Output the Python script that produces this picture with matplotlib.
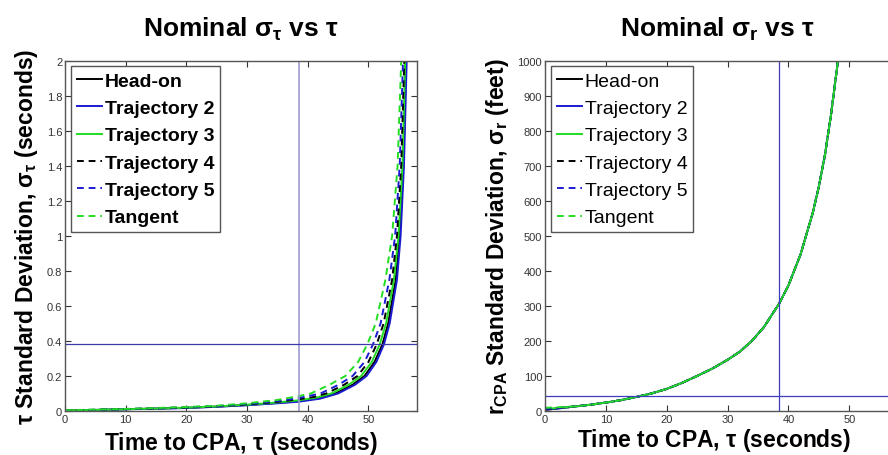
import matplotlib
matplotlib.use("Agg")
import matplotlib.pyplot as plt

plt.rcParams['font.family'] = ['Liberation Sans', 'DejaVu Sans']
plt.rcParams['mathtext.fontset'] = 'custom'
plt.rcParams['mathtext.rm'] = 'Liberation Sans:bold'
plt.rcParams['mathtext.it'] = 'Liberation Sans:bold'
plt.rcParams['mathtext.bf'] = 'Liberation Sans:bold'

labels = ["Head-on", "Trajectory 2", "Trajectory 3", "Trajectory 4", "Trajectory 5", "Tangent"]

# ---- left panel: sigma_tau (seconds) vs tau ----
tau_headon = [0, 5, 10, 15, 20, 25, 30, 35, 38.5, 42, 44.55, 47.4, 49.35, 51.0, 52.3, 53.25, 54.5, 55.15, 55.75, 56.2, 56.5]
sig_headon = [0.002, 0.006, 0.010, 0.014, 0.018, 0.025, 0.034, 0.046, 0.056, 0.075, 0.10, 0.15, 0.20, 0.28, 0.38, 0.50, 0.75, 1.0, 1.4, 2.0, 2.6]

tau_traj2 = [0, 5, 10, 15, 20, 25, 30, 35, 38.5, 42, 45.0, 47.8, 49.7, 51.3, 52.55, 53.5, 54.7, 55.3, 55.85, 56.3, 56.6]
sig_traj2 = [0.002, 0.006, 0.010, 0.013, 0.017, 0.024, 0.033, 0.044, 0.053, 0.07, 0.10, 0.15, 0.20, 0.28, 0.38, 0.50, 0.75, 1.0, 1.4, 2.0, 2.6]

tau_traj3 = [0, 5, 10, 15, 20, 25, 30, 35, 38.5, 41.5, 43.9, 46.75, 48.8, 50.55, 51.85, 52.9, 54.2, 54.95, 55.6, 56.05, 56.4]
sig_traj3 = [0.003, 0.006, 0.010, 0.014, 0.019, 0.026, 0.036, 0.049, 0.061, 0.077, 0.10, 0.15, 0.20, 0.28, 0.38, 0.50, 0.75, 1.0, 1.4, 2.0, 2.6]

tau_traj4 = [0, 5, 10, 15, 20, 25, 30, 35, 38.5, 41, 43.05, 46.0, 48.2, 50.0, 51.35, 52.5, 53.9, 54.7, 55.4, 55.9, 56.25]
sig_traj4 = [0.003, 0.007, 0.011, 0.015, 0.020, 0.027, 0.038, 0.052, 0.067, 0.08, 0.10, 0.15, 0.20, 0.28, 0.38, 0.50, 0.75, 1.0, 1.4, 2.0, 2.6]

tau_traj5 = [0, 5, 10, 15, 20, 25, 30, 35, 38.5, 42.1, 45.1, 47.4, 49.35, 50.75, 52.0, 53.45, 54.4, 55.15, 55.7, 56.1]
sig_traj5 = [0.003, 0.007, 0.011, 0.016, 0.021, 0.028, 0.040, 0.056, 0.074, 0.10, 0.15, 0.20, 0.28, 0.38, 0.50, 0.75, 1.0, 1.4, 2.0, 2.6]

tau_tangent = [0, 5, 10, 15, 20, 25, 30, 35, 38.5, 40.5, 43.6, 46.2, 48.3, 49.8, 51.2, 52.8, 53.9, 54.8, 55.4, 55.8]
sig_tangent = [0.004, 0.008, 0.012, 0.017, 0.023, 0.030, 0.044, 0.063, 0.085, 0.10, 0.15, 0.20, 0.28, 0.38, 0.50, 0.75, 1.0, 1.4, 2.0, 2.6]

tau_ref_left = 38.5
sig_ref_left = 0.383

# ---- right panel: sigma_r (feet) vs tau ----
tau_r = [0, 2.5, 5, 7.5, 10, 12.5, 15, 17.5, 20, 22.5, 25, 27.5, 30, 32, 34, 36, 38.5, 40, 42, 44, 45, 46, 47, 48, 49]
r_common = [13, 18, 24, 31, 40, 50, 63, 80, 100, 121, 146, 169, 200, 240, 307, 358, 447, 565, 640, 730, 845, 980, 1140]
r_headon = [3, 8] + r_common
r_traj2 = [4, 8] + r_common
r_traj3 = [6, 9] + r_common
r_traj4 = [5, 9] + r_common
r_traj5 = [6, 9] + r_common
r_tangent = [9, 11] + r_common

tau_ref_right = 38.5
r_ref_right = 43

xticks = [0, 10, 20, 30, 40, 50]
yticks_left = [0, 0.2, 0.4, 0.6, 0.8, 1, 1.2, 1.4, 1.6, 1.8, 2]
yticklabels_left = ["0", "0.2", "0.4", "0.6", "0.8", "1", "1.2", "1.4", "1.6", "1.8", "2"]
yticks_right = [0, 100, 200, 300, 400, 500, 600, 700, 800, 900, 1000]

styles = [
    dict(color='black', ls='-'),
    dict(color='#1a1ad0', ls='-'),
    dict(color='#22dd22', ls='-'),
    dict(color='black', ls=(0, (3.5, 2.5))),
    dict(color='#1a1ad0', ls=(0, (3.5, 2.5))),
    dict(color='#22dd22', ls=(0, (3.5, 2.5))),
]

fig = plt.figure(figsize=(8.88, 4.56), dpi=100)
axL = fig.add_axes([0.0732, 0.0965, 0.3964, 0.7686])
axR = fig.add_axes([0.6137, 0.0965, 0.3975, 0.7686])

left_series = [(tau_headon, sig_headon), (tau_traj2, sig_traj2), (tau_traj3, sig_traj3),
               (tau_traj4, sig_traj4), (tau_traj5, sig_traj5), (tau_tangent, sig_tangent)]
right_series = [r_headon, r_traj2, r_traj3, r_traj4, r_traj5, r_tangent]

for (t, s), st, lab in zip(left_series, styles, labels):
    axL.plot(t, s, lw=1.4, label=lab, **st)
axL.axvline(tau_ref_left, color='#9c9cd0', lw=1.2)
axL.axhline(sig_ref_left, color='#3a3aa8', lw=0.9)

for r, st, lab in zip(right_series, styles, labels):
    axR.plot(tau_r, r, lw=1.4, label=lab, **st)
axR.axvline(tau_ref_right, color='#3c3cc0', lw=0.9)
axR.axhline(r_ref_right, color='#3c3cc0', lw=0.9)

for ax in (axL, axR):
    ax.set_xlim(0, 58)
    ax.set_xticks(xticks)
    ax.set_xticklabels([str(v) for v in xticks])
    ax.tick_params(direction='in', top=True, right=True, length=4, width=0.8,
                   labelsize=8, colors='#333333', pad=2)
    for sp in ax.spines.values():
        sp.set_color('#555555')
        sp.set_linewidth(1.0)

axL.set_ylim(0, 2)
axL.set_yticks(yticks_left)
axL.set_yticklabels(yticklabels_left)
axR.set_ylim(0, 1000)
axR.set_yticks(yticks_right)
axR.set_yticklabels([str(v) for v in yticks_right])

axL.set_title(r'Nominal $\sigma_\tau$ vs $\tau$', fontsize=19, fontweight='bold', pad=18)
axR.set_title(r'Nominal $\sigma_r$ vs $\tau$', fontsize=19, fontweight='bold', pad=18)
axR.title.set_x((717 - 545) / 353.0)

axL.set_xlabel(r'Time to CPA, $\tau$ (seconds)', fontsize=16.5, fontweight='bold', labelpad=4)
axR.set_xlabel(r'Time to CPA, $\tau$ (seconds)', fontsize=16.5, fontweight='bold', labelpad=4)
axR.xaxis.set_label_coords((714 - 545) / 353.0, -0.043)
axR.xaxis.label.set_va('top')
axL.set_ylabel(r'$\tau$ Standard Deviation, $\sigma_\tau$ (seconds)', fontsize=16.5, fontweight='bold', labelpad=5)
axR.set_ylabel(r'$r_{CPA}$ Standard Deviation, $\sigma_r$ (feet)', fontsize=16.5, fontweight='bold', labelpad=5)

legL = axL.legend(loc='upper left', prop=dict(weight='bold', size=14),
                  frameon=True, fancybox=False, handlelength=1.3, handletextpad=0.15,
                  borderaxespad=0.3, borderpad=0.3, labelspacing=0.5)
legR = axR.legend(loc='upper left', prop=dict(size=14),
                  frameon=True, fancybox=False, handlelength=1.3, handletextpad=0.15,
                  borderaxespad=0.3, borderpad=0.3, labelspacing=0.5)
for leg in (legL, legR):
    fr = leg.get_frame()
    fr.set_edgecolor('#555555')
    fr.set_linewidth(1.0)
    fr.set_alpha(1)

fig.savefig('out.png', dpi=100)
